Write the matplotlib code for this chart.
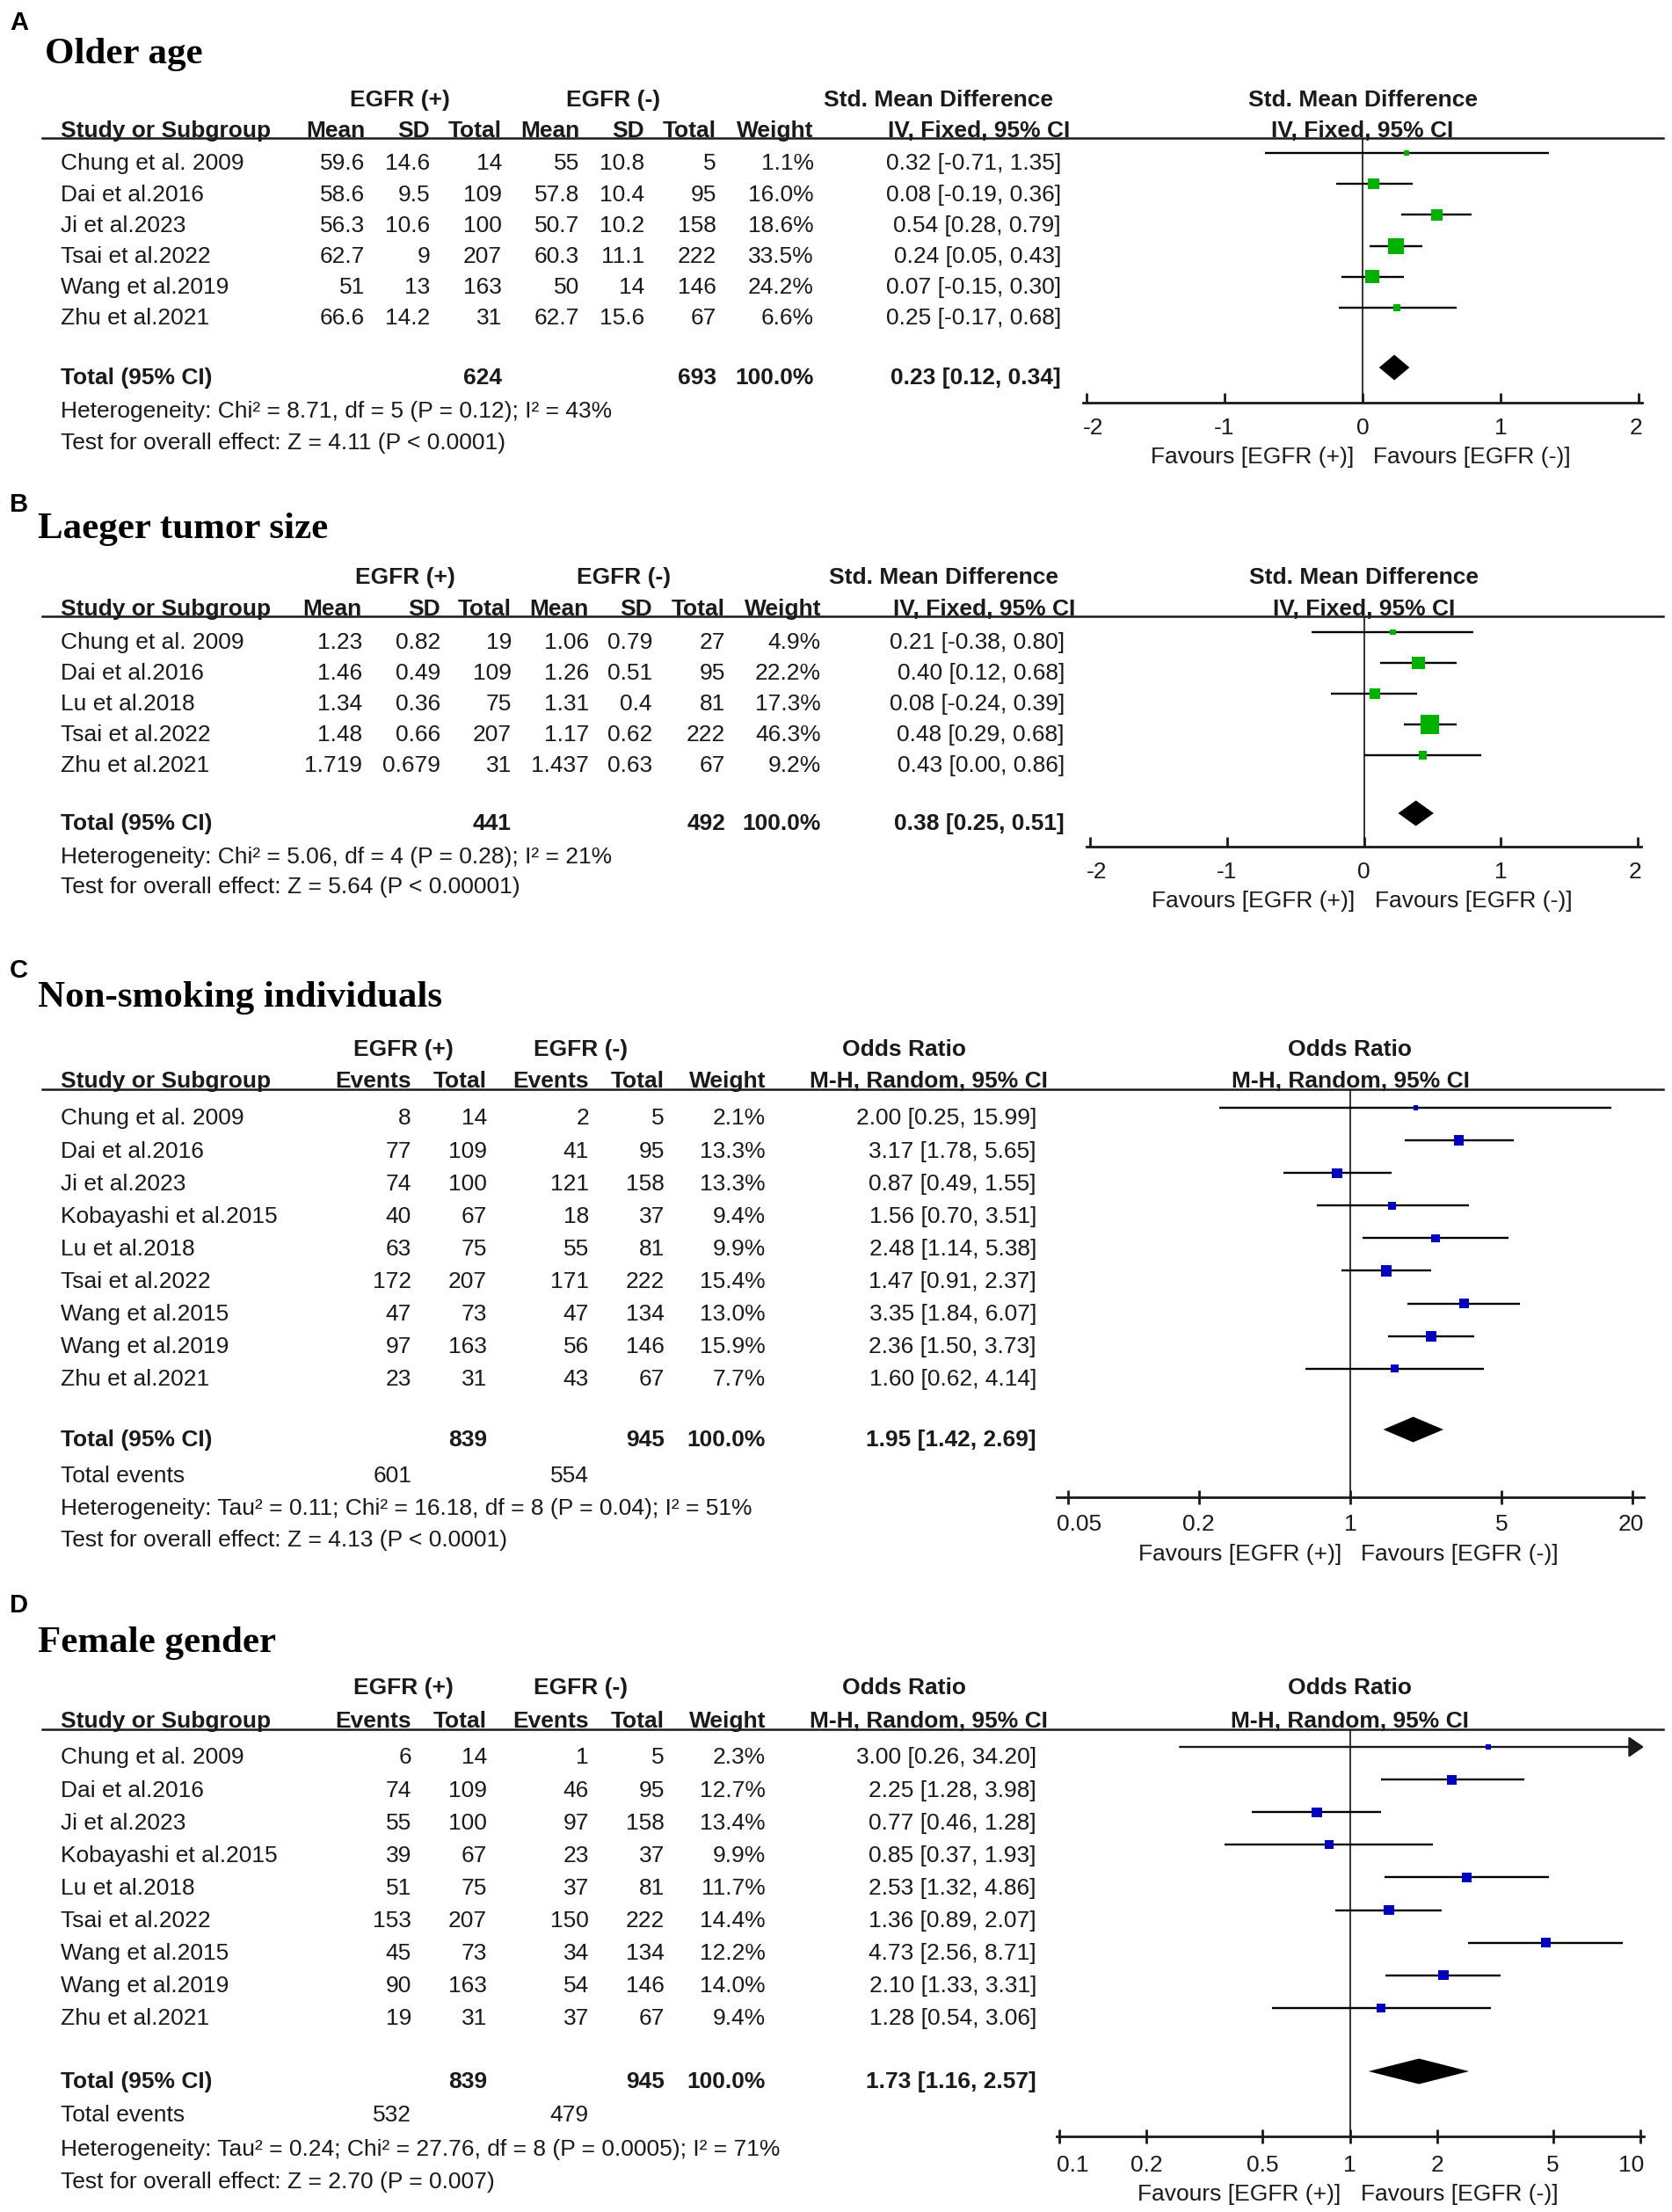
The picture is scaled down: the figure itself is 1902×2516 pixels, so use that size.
import numpy as np
import matplotlib
matplotlib.use("Agg")
import matplotlib.pyplot as plt
from matplotlib.lines import Line2D
from matplotlib.ticker import NullLocator
from matplotlib.transforms import blended_transform_factory, offset_copy

# ------------------------------------------------------------------ data
# A  Older age  (Std. Mean Difference, IV, Fixed)
A_study = ["Chung et al. 2009", "Dai et al.2016", "Ji et al.2023",
           "Tsai et al.2022", "Wang et al.2019", "Zhu et al.2021"]
A_pos_mean = [59.6, 58.6, 56.3, 62.7, 51, 66.6]
A_pos_sd = [14.6, 9.5, 10.6, 9, 13, 14.2]
A_pos_n = [14, 109, 100, 207, 163, 31]
A_neg_mean = [55, 57.8, 50.7, 60.3, 50, 62.7]
A_neg_sd = [10.8, 10.4, 10.2, 11.1, 14, 15.6]
A_neg_n = [5, 95, 158, 222, 146, 67]
A_weight = [1.1, 16.0, 18.6, 33.5, 24.2, 6.6]
A_est = [0.32, 0.08, 0.54, 0.24, 0.07, 0.25]
A_lo = [-0.71, -0.19, 0.28, 0.05, -0.15, -0.17]
A_hi = [1.35, 0.36, 0.79, 0.43, 0.30, 0.68]
A_total_n = [624, 693]
A_pooled = [0.23, 0.12, 0.34]
A_het = "Heterogeneity: Chi\u00b2 = 8.71, df = 5 (P = 0.12); I\u00b2 = 43%"
A_test = "Test for overall effect: Z = 4.11 (P < 0.0001)"

# B  Laeger tumor size
B_study = ["Chung et al. 2009", "Dai et al.2016", "Lu et al.2018",
           "Tsai et al.2022", "Zhu et al.2021"]
B_pos_mean = [1.23, 1.46, 1.34, 1.48, 1.719]
B_pos_sd = [0.82, 0.49, 0.36, 0.66, 0.679]
B_pos_n = [19, 109, 75, 207, 31]
B_neg_mean = [1.06, 1.26, 1.31, 1.17, 1.437]
B_neg_sd = [0.79, 0.51, 0.4, 0.62, 0.63]
B_neg_n = [27, 95, 81, 222, 67]
B_weight = [4.9, 22.2, 17.3, 46.3, 9.2]
B_est = [0.21, 0.40, 0.08, 0.48, 0.43]
B_lo = [-0.38, 0.12, -0.24, 0.29, 0.00]
B_hi = [0.80, 0.68, 0.39, 0.68, 0.86]
B_total_n = [441, 492]
B_pooled = [0.38, 0.25, 0.51]
B_het = "Heterogeneity: Chi\u00b2 = 5.06, df = 4 (P = 0.28); I\u00b2 = 21%"
B_test = "Test for overall effect: Z = 5.64 (P < 0.00001)"

# C  Non-smoking individuals (Odds Ratio, M-H, Random)
C_study = ["Chung et al. 2009", "Dai et al.2016", "Ji et al.2023",
           "Kobayashi et al.2015", "Lu et al.2018", "Tsai et al.2022",
           "Wang et al.2015", "Wang et al.2019", "Zhu et al.2021"]
C_pos_ev = [8, 77, 74, 40, 63, 172, 47, 97, 23]
C_pos_n = [14, 109, 100, 67, 75, 207, 73, 163, 31]
C_neg_ev = [2, 41, 121, 18, 55, 171, 47, 56, 43]
C_neg_n = [5, 95, 158, 37, 81, 222, 134, 146, 67]
C_weight = [2.1, 13.3, 13.3, 9.4, 9.9, 15.4, 13.0, 15.9, 7.7]
C_est = [2.00, 3.17, 0.87, 1.56, 2.48, 1.47, 3.35, 2.36, 1.60]
C_lo = [0.25, 1.78, 0.49, 0.70, 1.14, 0.91, 1.84, 1.50, 0.62]
C_hi = [15.99, 5.65, 1.55, 3.51, 5.38, 2.37, 6.07, 3.73, 4.14]
C_total_n = [839, 945]
C_total_ev = [601, 554]
C_pooled = [1.95, 1.42, 2.69]
C_het = "Heterogeneity: Tau\u00b2 = 0.11; Chi\u00b2 = 16.18, df = 8 (P = 0.04); I\u00b2 = 51%"
C_test = "Test for overall effect: Z = 4.13 (P < 0.0001)"

# D  Female gender
D_study = C_study
D_pos_ev = [6, 74, 55, 39, 51, 153, 45, 90, 19]
D_pos_n = [14, 109, 100, 67, 75, 207, 73, 163, 31]
D_neg_ev = [1, 46, 97, 23, 37, 150, 34, 54, 37]
D_neg_n = [5, 95, 158, 37, 81, 222, 134, 146, 67]
D_weight = [2.3, 12.7, 13.4, 9.9, 11.7, 14.4, 12.2, 14.0, 9.4]
D_est = [3.00, 2.25, 0.77, 0.85, 2.53, 1.36, 4.73, 2.10, 1.28]
D_lo = [0.26, 1.28, 0.46, 0.37, 1.32, 0.89, 2.56, 1.33, 0.54]
D_hi = [34.20, 3.98, 1.28, 1.93, 4.86, 2.07, 8.71, 3.31, 3.06]
D_total_n = [839, 945]
D_total_ev = [532, 479]
D_pooled = [1.73, 1.16, 2.57]
D_het = "Heterogeneity: Tau\u00b2 = 0.24; Chi\u00b2 = 27.76, df = 8 (P = 0.0005); I\u00b2 = 71%"
D_test = "Test for overall effect: Z = 2.70 (P = 0.007)"

SMD_ticks = [-2, -1, 0, 1, 2]
SMD_ticklabels = ["-2", "-1", "0", "1", "2"]
C_ticks = [0.05, 0.2, 1, 5, 20]
C_ticklabels = ["0.05", "0.2", "1", "5", "20"]
D_ticks = [0.1, 0.2, 0.5, 1, 2, 5, 10]
D_ticklabels = ["0.1", "0.2", "0.5", "1", "2", "5", "10"]

# ------------------------------------------------------------------ figure
W, H = 1902, 2516
plt.rcParams['font.family'] = ['Liberation Sans', 'DejaVu Sans']
fig = plt.figure(figsize=(W / 100, H / 100), dpi=100)
TXT = '#1a1a1a'
FS = 19
GREEN = '#00b200'
BLUE = '#0000be'


def fx(px):
    return px / W


def fy(py):
    return 1 - py / H


def put(x, yc, s, ha='left', bold=False, size=FS, trans=None):
    """place text whose cap-centre is at pixel row yc"""
    yb = yc + 0.358 * size * 100 / 72
    if trans is None:
        fig.text(fx(x), fy(yb), s, ha=ha, va='baseline', fontsize=size,
                 fontweight='bold' if bold else 'normal', color=TXT)
    else:
        fig.text(x, fy(yb), s, ha=ha, va='baseline', fontsize=size,
                 fontweight='bold' if bold else 'normal', color=TXT,
                 transform=trans)


def gs(v):
    return '%g' % v


def ci_txt(e, l, h):
    return '%.2f [%.2f, %.2f]' % (e, l, h)


def panel(L, D):
    # panel letter and title
    fig.text(fx(11), fy(L['label_base']), L['label'], fontsize=21,
             fontweight='bold', color='black', va='baseline')
    fig.text(fx(L['title_x']), fy(L['title_base']), L['title'], fontsize=31,
             fontweight='bold', family='Liberation Serif', color='black',
             va='baseline')

    # group headers
    for cx, g in zip(L['grp'], ['EGFR (+)', 'EGFR (-)', D['measure']]):
        put(cx, L['group_y'], g, ha='center', bold=True)
    # column headers
    put(L['name_x'], L['hdr_y'], 'Study or Subgroup', bold=True)
    for cx, h in zip(L['cols'], D['headers']):
        put(cx, L['hdr_y'], h, ha='right', bold=True)
    put(L['weight_r'], L['hdr_y'], 'Weight', ha='right', bold=True)
    put(L['ci_hdr_r'], L['hdr_y'], D['method'], ha='right', bold=True)

    # header rule
    fig.add_artist(Line2D([fx(48), fx(1892)], [fy(L['line_y'])] * 2,
                          transform=fig.transFigure, color='#1a1a1a', lw=1.8))

    n = len(D['study'])
    rows_y = [L['row0'] + i * L['dy'] for i in range(n)]
    for i, y in enumerate(rows_y):
        put(L['name_x'], y, D['study'][i])
        for cx, col in zip(L['cols'], D['cols']):
            put(cx, y, gs(col[i]), ha='right')
        put(L['weight_r'], y, '%.1f%%' % D['weight'][i], ha='right')
        put(L['ci_r'], y, ci_txt(D['est'][i], D['lo'][i], D['hi'][i]), ha='right')

    # totals
    ty = L['total_y']
    put(L['name_x'], ty, 'Total (95% CI)', bold=True)
    for ci, v in zip(D['total_cols'], D['total_n']):
        put(L['cols'][ci], ty, gs(v), ha='right', bold=True)
    put(L['weight_r'], ty, '100.0%', ha='right', bold=True)
    put(L['ci_r'], ty, ci_txt(*D['pooled']), ha='right', bold=True)
    if D.get('total_ev') is not None:
        put(L['name_x'], L['events_y'], 'Total events')
        for ci, v in zip(D['ev_cols'], D['total_ev']):
            put(L['cols'][ci], L['events_y'], gs(v), ha='right')
    put(L['name_x'], L['het_y'], D['het'])
    put(L['name_x'], L['test_y'], D['test'])

    # ---------------- forest axes
    axl, axr = L['ax_x']
    ax = fig.add_axes([fx(axl), fy(L['axis_y']), (axr - axl) / W,
                       (L['axis_y'] - L['line_y']) / H])
    log = D['log']
    g = np.log10 if log else (lambda v: v)
    ginv = (lambda v: 10 ** v) if log else (lambda v: v)
    (t0, t1), (p0, p1) = L['tick_data'], L['tick_px']
    k = (g(t1) - g(t0)) / (p1 - p0)
    xmin = ginv(g(t0) + (axl - p0) * k)
    xmax = ginv(g(t0) + (axr - p0) * k)
    if log:
        ax.set_xscale('log')
    ax.set_xlim(xmin, xmax)
    off = 10.0
    m0 = L['row0'] - off
    ax.set_ylim((L['axis_y'] - m0) / L['dy'], (L['line_y'] - m0) / L['dy'])
    ax.patch.set_alpha(0)
    for s in ['top', 'left', 'right']:
        ax.spines[s].set_visible(False)
    ax.spines['bottom'].set_linewidth(2.0)
    ax.spines['bottom'].set_color('#1a1a1a')
    ax.set_yticks([])
    ax.set_xticks(D['ticks'])
    ax.xaxis.set_minor_locator(NullLocator())
    ax.tick_params(axis='x', direction=L['tickdir'], length=L['ticklen'],
                   width=2.0, color='#1a1a1a', labelbottom=False)
    ref = 1 if log else 0
    ax.axvline(ref, color='black', lw=1.1, zorder=1)

    tb = blended_transform_factory(ax.transData, fig.transFigure)
    nt = len(D['ticks'])
    for j, (t, lab) in enumerate(zip(D['ticks'], D['ticklabels'])):
        if j == 0:
            put(xmin, L['tick_y'], lab, ha='left', trans=tb)
        elif j == nt - 1:
            put(xmax, L['tick_y'], lab, ha='right', trans=tb)
        else:
            put(t, L['tick_y'], lab, ha='center', trans=tb)
    put(ref, L['group_y'], D['measure'], ha='center', bold=True, trans=tb)
    put(ref, L['hdr_y'], D['method'], ha='center', bold=True, trans=tb)
    yb = L['fav_y'] + 0.358 * FS * 100 / 72
    fig.text(ref, fy(yb), 'Favours [EGFR (+)]', ha='right', va='baseline',
             fontsize=FS, color=TXT,
             transform=offset_copy(tb, fig=fig, x=-10, units='dots'))
    fig.text(ref, fy(yb), 'Favours [EGFR (-)]', ha='left', va='baseline',
             fontsize=FS, color=TXT,
             transform=offset_copy(tb, fig=fig, x=12, units='dots'))

    idx = np.arange(n)
    est, lo, hi = np.array(D['est']), np.array(D['lo']), np.array(D['hi'])
    for i in idx:
        if hi[i] > xmax:
            ax.annotate('', xy=(xmax, i), xytext=(lo[i], i),
                        arrowprops=dict(arrowstyle='-|>,head_length=0.8,head_width=0.55',
                                        lw=1.7, color='#1a1a1a',
                                        shrinkA=0, shrinkB=0,
                                        mutation_scale=13),
                        annotation_clip=False)
        else:
            ax.plot([lo[i], hi[i]], [i, i], color='black', lw=1.7, zorder=2,
                    solid_capstyle='butt')
    side = np.maximum(3.1 * np.sqrt(np.array(D['weight'])), 5.5) * 0.72
    ax.scatter(est, idx, s=side ** 2, marker='s', color=D['color'],
               linewidths=0, zorder=3)
    r = (L['total_y'] - L['row0']) / L['dy']
    h = 14.5 / L['dy']
    pe, pl, ph = D['pooled']
    ax.fill([pl, pe, ph, pe], [r, r - h, r, r + h], color='black', zorder=3,
            lw=0)


SMD_hdr = ['Mean', 'SD', 'Total', 'Mean', 'SD', 'Total']
OR_hdr = ['Events', 'Total', 'Events', 'Total']

LA = dict(label='A', title='Older age', label_base=34, title_base=72, title_x=51,
          group_y=112, hdr_y=146.5, line_y=157, row0=184, dy=35.2, total_y=428,
          het_y=466, test_y=501.5, axis_y=458, tick_y=485, fav_y=518,
          name_x=69, cols=[415, 489, 571, 659, 733, 815], weight_r=925.5,
          ci_r=1207, ci_hdr_r=1217, grp=[455, 697.5, 1067.5],
          tick_data=(-2, 2), tick_px=(1236, 1864), ax_x=(1232, 1868),
          tickdir='in', ticklen=8)
LB = dict(label='B', title='Laeger tumor size', label_base=582, title_base=612,
          title_x=43, group_y=655, hdr_y=691, line_y=701, row0=729, dy=35,
          total_y=935, het_y=973, test_y=1007, axis_y=963, tick_y=990, fav_y=1023,
          name_x=69, cols=[412, 501, 582, 670, 742, 825], weight_r=934,
          ci_r=1211, ci_hdr_r=1223, grp=[461, 710, 1073.5],
          tick_data=(-2, 2), tick_px=(1240, 1863), ax_x=(1236, 1867),
          tickdir='in', ticklen=8)
LC = dict(label='C', title='Non-smoking individuals', label_base=1112,
          title_base=1145, title_x=43, group_y=1192, hdr_y=1228, line_y=1239,
          row0=1270, dy=37.1, total_y=1636, events_y=1677, het_y=1714,
          test_y=1750, axis_y=1703, tick_y=1732, fav_y=1766,
          name_x=69, cols=[468, 554, 670, 756], weight_r=871,
          ci_r=1179, ci_hdr_r=1192, grp=[458.5, 661, 1028.6],
          tick_data=(0.05, 20), tick_px=(1215, 1857), ax_x=(1202, 1870),
          tickdir='inout', ticklen=11)
LD = dict(label='D', title='Female gender', label_base=1834, title_base=1879,
          title_x=43, group_y=1918, hdr_y=1956, line_y=1967, row0=1997, dy=37.1,
          total_y=2366, events_y=2404, het_y=2443, test_y=2480, axis_y=2430,
          tick_y=2461, fav_y=2494,
          name_x=69, cols=[468, 554, 670, 756], weight_r=871,
          ci_r=1179, ci_hdr_r=1192, grp=[458.5, 661, 1028.6],
          tick_data=(0.1, 10), tick_px=(1205, 1866), ax_x=(1202, 1870),
          tickdir='inout', ticklen=11)

DA = dict(study=A_study, cols=[A_pos_mean, A_pos_sd, A_pos_n, A_neg_mean, A_neg_sd, A_neg_n],
          headers=SMD_hdr, weight=A_weight, est=A_est, lo=A_lo, hi=A_hi,
          total_cols=[2, 5], total_n=A_total_n, pooled=A_pooled, het=A_het, test=A_test,
          measure='Std. Mean Difference', method='IV, Fixed, 95% CI', log=False,
          ticks=SMD_ticks, ticklabels=SMD_ticklabels, color=GREEN)
DB = dict(study=B_study, cols=[B_pos_mean, B_pos_sd, B_pos_n, B_neg_mean, B_neg_sd, B_neg_n],
          headers=SMD_hdr, weight=B_weight, est=B_est, lo=B_lo, hi=B_hi,
          total_cols=[2, 5], total_n=B_total_n, pooled=B_pooled, het=B_het, test=B_test,
          measure='Std. Mean Difference', method='IV, Fixed, 95% CI', log=False,
          ticks=SMD_ticks, ticklabels=SMD_ticklabels, color=GREEN)
DC = dict(study=C_study, cols=[C_pos_ev, C_pos_n, C_neg_ev, C_neg_n],
          headers=OR_hdr, weight=C_weight, est=C_est, lo=C_lo, hi=C_hi,
          total_cols=[1, 3], total_n=C_total_n, ev_cols=[0, 2], total_ev=C_total_ev,
          pooled=C_pooled, het=C_het, test=C_test,
          measure='Odds Ratio', method='M-H, Random, 95% CI', log=True,
          ticks=C_ticks, ticklabels=C_ticklabels, color=BLUE)
DD = dict(study=D_study, cols=[D_pos_ev, D_pos_n, D_neg_ev, D_neg_n],
          headers=OR_hdr, weight=D_weight, est=D_est, lo=D_lo, hi=D_hi,
          total_cols=[1, 3], total_n=D_total_n, ev_cols=[0, 2], total_ev=D_total_ev,
          pooled=D_pooled, het=D_het, test=D_test,
          measure='Odds Ratio', method='M-H, Random, 95% CI', log=True,
          ticks=D_ticks, ticklabels=D_ticklabels, color=BLUE)

for L, D in [(LA, DA), (LB, DB), (LC, DC), (LD, DD)]:
    panel(L, D)

fig.savefig('out.png', dpi=100, facecolor='white')
